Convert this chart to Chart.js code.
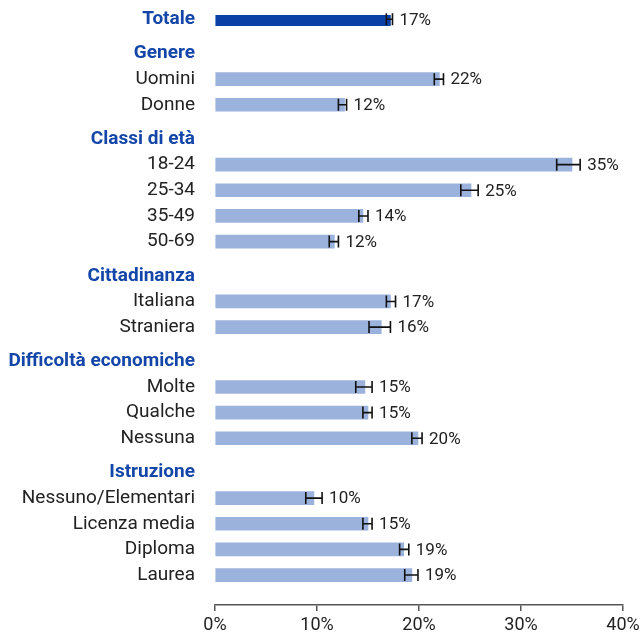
<!DOCTYPE html>
<html>
<head>
<meta charset="utf-8">
<script src="https://cdn.jsdelivr.net/npm/chart.js@4.4.1/dist/chart.umd.min.js"></script>
<style>
  html, body { margin: 0; padding: 0; background: #fff; }
  #wrap { width: 642px; height: 632px; position: relative; }
</style>
</head>
<body>
<div id="wrap"><canvas id="c"></canvas></div>
<script>
// ---- Data ----
const totalLabel = 'Totale';
const totalValue = 17.2;
const totalLow = 16.8;
const totalHigh = 17.4;
const totalText = '17%';

const groups = ['Genere', 'Classi di età', 'Cittadinanza', 'Difficoltà economiche', 'Istruzione'];
const groupSizes = [2, 4, 2, 3, 4];
const categories = ['Uomini', 'Donne', '18-24', '25-34', '35-49', '50-69', 'Italiana', 'Straniera',
  'Molte', 'Qualche', 'Nessuna', 'Nessuno/Elementari', 'Licenza media', 'Diploma', 'Laurea'];
const values = [22.0, 12.7, 35.0, 25.1, 14.5, 11.7, 17.2, 16.3, 14.7, 15.0, 19.9, 9.7, 15.0, 18.5, 19.3];
const lows   = [21.5, 12.1, 33.5, 24.1, 14.1, 11.2, 16.8, 15.1, 13.8, 14.5, 19.3, 8.9, 14.5, 18.1, 18.6];
const highs  = [22.4, 12.9, 35.8, 25.8, 15.0, 12.1, 17.7, 17.2, 15.4, 15.4, 20.3, 10.5, 15.4, 19.0, 19.9];
const valueTexts = ['22%', '12%', '35%', '25%', '14%', '12%', '17%', '16%', '15%', '15%', '20%', '10%', '15%', '19%', '19%'];
const xTicks = [0, 10, 20, 30, 40];

// ---- Row layout built from the groups (spacer slots between rows) ----
const HEADER_GAP = 4, ITEM_GAP = 3, TAIL = 3;
const rows = [];
function blanks(n) { for (let i = 0; i < n; i++) rows.push({label: '', kind: 'blank'}); }
rows.push({label: totalLabel, kind: 'total', v: totalValue, lo: totalLow, hi: totalHigh, t: totalText});
let k = 0;
groups.forEach((g, gi) => {
  blanks(HEADER_GAP - 1);
  rows.push({label: g, kind: 'header'});
  for (let j = 0; j < groupSizes[gi]; j++, k++) {
    blanks(ITEM_GAP - 1);
    rows.push({label: categories[k], kind: 'item', v: values[k], lo: lows[k], hi: highs[k], t: valueTexts[k]});
  }
});
blanks(TAIL);

const DARK = '#0a3fa6';
const LIGHT = '#9bb2dd';
const HEAD = '#1346a8';
const FONT = 'Roboto';

const errorPlugin = {
  id: 'errbars',
  afterDatasetsDraw(chart) {
    const ctx = chart.ctx;
    const xs = chart.scales.x, ys = chart.scales.y;
    ctx.save();
    rows.forEach((r, i) => {
      if (r.v == null) return;
      const y = ys.getPixelForValue(i);
      const x1 = xs.getPixelForValue(r.lo), x2 = xs.getPixelForValue(r.hi);
      ctx.strokeStyle = '#111';
      ctx.lineWidth = 1.6;
      ctx.beginPath();
      ctx.moveTo(x1, y); ctx.lineTo(x2, y);
      ctx.moveTo(x1, y - 6); ctx.lineTo(x1, y + 6);
      ctx.moveTo(x2, y - 6); ctx.lineTo(x2, y + 6);
      ctx.stroke();
      ctx.fillStyle = '#222';
      ctx.font = '17px ' + FONT;
      ctx.textAlign = 'left';
      ctx.textBaseline = 'middle';
      ctx.fillText(r.t, x2 + 7, y + 1);
    });
    ctx.restore();
  }
};

new Chart(document.getElementById('c'), {
  type: 'bar',
  data: {
    labels: rows.map(r => r.label),
    datasets: [{
      data: rows.map(r => r.v == null ? null : r.v),
      backgroundColor: rows.map(r => r.kind === 'total' ? DARK : LIGHT),
      barThickness: 13,
      borderWidth: 0
    }]
  },
  options: {
    indexAxis: 'y',
    responsive: true,
    maintainAspectRatio: false,
    animation: false,
    layout: { padding: { top: 15, right: 19, left: 0, bottom: 0 } },
    plugins: { legend: { display: false }, tooltip: { enabled: false } },
    scales: {
      y: {
        type: 'category',
        grid: { display: false, drawTicks: false },
        border: { display: false },
        afterFit(s) { s.width = 215; s.paddingTop = 0; s.paddingBottom = 0; },
        ticks: {
          autoSkip: false,
          padding: 20,
          font: (c) => {
            const r = rows[c.index];
            const bold = r && (r.kind === 'header' || r.kind === 'total');
            return { family: FONT, size: 19, weight: bold ? 'bold' : 'normal' };
          },
          color: (c) => {
            const r = rows[c.index];
            return r && (r.kind === 'header' || r.kind === 'total') ? HEAD : '#222';
          }
        }
      },
      x: {
        type: 'linear',
        min: 0, max: 40,
        afterBuildTicks(s) { s.ticks = xTicks.map(v => ({value: v})); },
        afterFit(s) { s.height = 27; s.paddingLeft = 0; s.paddingRight = 0; },
        grid: { drawOnChartArea: false, drawTicks: true, tickLength: 6, color: '#555', lineWidth: 1.5 },
        border: { display: true, color: '#555', width: 1.5 },
        ticks: {
          padding: 4,
          color: '#222',
          font: { family: FONT, size: 18 },
          callback: (v) => v + '%'
        }
      }
    }
  },
  plugins: [errorPlugin]
});
</script>
</body>
</html>
